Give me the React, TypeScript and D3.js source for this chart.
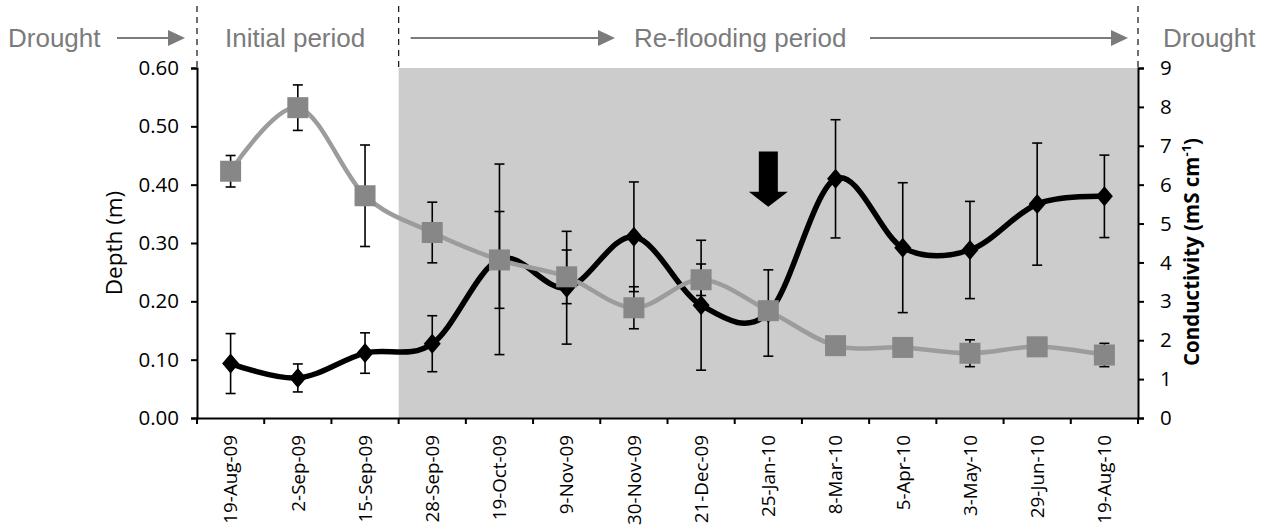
import * as d3 from 'd3';
import { useEffect, useRef } from 'react';

const WIDTH = 1270;
const HEIGHT = 527;

const dates = [
    '19-Aug-09', '2-Sep-09', '15-Sep-09', '28-Sep-09', '19-Oct-09', '9-Nov-09', '30-Nov-09',
    '21-Dec-09', '25-Jan-10', '8-Mar-10', '5-Apr-10', '3-May-10', '29-Jun-10', '19-Aug-10',
];
// water depth (m), left axis
const depth = [0.423, 0.532, 0.381, 0.318, 0.271, 0.242, 0.189, 0.237, 0.184, 0.124, 0.121, 0.111, 0.122, 0.108];
const depthErr = [0.027, 0.039, 0.087, 0.052, 0.083, 0.046, 0.036, 0.027, 0.01, 0.008, 0.008, 0.023, 0.01, 0.02];
// conductivity (mS/cm), right axis
const cond = [1.4, 1.03, 1.67, 1.91, 4.08, 3.35, 4.66, 2.9, 2.7, 6.15, 4.38, 4.32, 5.5, 5.7];
const condErr = [0.77, 0.36, 0.52, 0.72, 2.45, 1.45, 1.41, 1.67, 1.11, 1.52, 1.67, 1.25, 1.57, 1.06];

const depthTicks = [0, 0.1, 0.2, 0.3, 0.4, 0.5, 0.6];
const condTicks = [0, 1, 2, 3, 4, 5, 6, 7, 8, 9];

const refloodStart = '28-Sep-09';
const arrowDate = '25-Jan-10';

const TICK_FONT = '"Open Sans", Lato, sans-serif';
const NOTE_FONT = '"Liberation Sans", Arial, sans-serif';

export default function App() {
    const svgRef = useRef(null);

    useEffect(() => {
        const svg = d3.select(svgRef.current);
        svg.selectAll('*').remove();

        const left = 197;
        const right = 1138;
        const top = 68;
        const bottom = 418;

        const x = d3.scaleBand().domain(dates).range([left, right]);
        const cx = (d) => x(d) + x.bandwidth() / 2;
        const yD = d3.scaleLinear().domain([0, 0.6]).range([bottom, top]);
        const yC = d3.scaleLinear().domain([0, 9]).range([bottom, top]);

        // shaded re-flooding period
        svg.append('rect')
            .attr('x', x(refloodStart))
            .attr('y', top)
            .attr('width', right - x(refloodStart))
            .attr('height', bottom - top)
            .attr('fill', '#cccccc');

        // axes
        const gl = svg.append('g')
            .attr('transform', `translate(${left},0)`)
            .call(d3.axisLeft(yD).tickValues(depthTicks).tickFormat(d3.format('.2f')).tickSizeOuter(0).tickSize(6).tickPadding(12));
        const gr = svg.append('g')
            .attr('transform', `translate(${right},0)`)
            .call(d3.axisRight(yC).tickValues(condTicks).tickSizeOuter(0).tickSize(6).tickPadding(16));
        const gb = svg.append('g')
            .attr('transform', `translate(0,${bottom})`)
            .call(d3.axisBottom(x).tickSize(0).tickSizeOuter(0));

        // band-boundary ticks on x axis
        const bounds = dates.map((d) => x(d)).concat([right]);
        svg.append('g')
            .selectAll('line')
            .data(bounds)
            .join('line')
            .attr('x1', (d) => d)
            .attr('x2', (d) => d)
            .attr('y1', bottom)
            .attr('y2', bottom + 6)
            .attr('stroke', '#000')
            .attr('stroke-width', 2);

        [gl, gr, gb].forEach((g) => {
            g.selectAll('path.domain').attr('stroke', '#000').attr('stroke-width', 2);
            g.selectAll('.tick line').attr('stroke', '#000').attr('stroke-width', 2);
            g.selectAll('text').attr('fill', '#000').style('font-family', TICK_FONT);
        });
        gl.selectAll('text').style('font-size', '20.5px');
        gr.selectAll('text').style('font-size', '20.5px');
        gb.selectAll('text')
            .style('font-size', '18.8px')
            .attr('transform', 'rotate(-90)')
            .attr('x', -17)
            .attr('y', 0)
            .attr('dy', '0.36em')
            .style('text-anchor', 'end');

        // axis titles
        svg.append('text')
            .attr('transform', `translate(122,${(top + bottom) / 2}) rotate(-90)`)
            .attr('text-anchor', 'middle')
            .style('font-family', TICK_FONT)
            .style('font-size', '22.5px')
            .attr('fill', '#000')
            .text('Depth (m)');

        const ct = svg.append('text')
            .attr('transform', `translate(1199,252) rotate(-90)`)
            .attr('text-anchor', 'middle')
            .style('font-family', TICK_FONT)
            .style('font-size', '20.5px')
            .style('font-weight', 700)
            .attr('fill', '#000');
        ct.append('tspan').text('Conductivity (mS cm');
        ct.append('tspan').attr('dy', -8).style('font-size', '13px').text('-1');
        ct.append('tspan').attr('dy', 8).text(')');

        // conductivity series (black)
        const idx = d3.range(dates.length);
        const condLine = d3.line()
            .x((i) => cx(dates[i]))
            .y((i) => yC(cond[i]))
            .curve(d3.curveCardinal.tension(0));

        const gc = svg.append('g');
        gc.selectAll('g.err')
            .data(idx)
            .join('g')
            .each(function (i) {
                const g = d3.select(this);
                const xc = cx(dates[i]);
                const y1 = yC(cond[i] + condErr[i]);
                const y2 = yC(cond[i] - condErr[i]);
                g.append('line').attr('x1', xc).attr('x2', xc).attr('y1', y1).attr('y2', y2);
                g.append('line').attr('x1', xc - 5).attr('x2', xc + 5).attr('y1', y1).attr('y2', y1);
                g.append('line').attr('x1', xc - 5).attr('x2', xc + 5).attr('y1', y2).attr('y2', y2);
            })
            .attr('stroke', '#000')
            .attr('stroke-width', 1.6);
        gc.append('path')
            .datum(idx)
            .attr('fill', 'none')
            .attr('stroke', '#000')
            .attr('stroke-width', 5.5)
            .attr('d', condLine);
        gc.selectAll('path.mk')
            .data(idx)
            .join('path')
            .attr('class', 'mk')
            .attr('transform', (i) => `translate(${cx(dates[i])},${yC(cond[i])})`)
            .attr('d', 'M0,-10L8.5,0L0,10L-8.5,0Z')
            .attr('fill', '#000');

        // depth series (grey)
        const depthLine = d3.line()
            .x((i) => cx(dates[i]))
            .y((i) => yD(depth[i]))
            .curve(d3.curveCardinal.tension(0));

        const gd = svg.append('g');
        gd.append('path')
            .datum(idx)
            .attr('fill', 'none')
            .attr('stroke', '#9c9c9c')
            .attr('stroke-width', 4.5)
            .attr('d', depthLine);
        gd.selectAll('g.err')
            .data(idx)
            .join('g')
            .each(function (i) {
                const g = d3.select(this);
                const xc = cx(dates[i]);
                const y1 = yD(depth[i] + depthErr[i]);
                const y2 = yD(depth[i] - depthErr[i]);
                g.append('line').attr('x1', xc).attr('x2', xc).attr('y1', y1).attr('y2', y2);
                g.append('line').attr('x1', xc - 5).attr('x2', xc + 5).attr('y1', y1).attr('y2', y1);
                g.append('line').attr('x1', xc - 5).attr('x2', xc + 5).attr('y1', y2).attr('y2', y2);
            })
            .attr('stroke', '#000')
            .attr('stroke-width', 1.6);
        gd.selectAll('rect.mk')
            .data(idx)
            .join('rect')
            .attr('class', 'mk')
            .attr('x', (i) => cx(dates[i]) - 10.5)
            .attr('y', (i) => yD(depth[i]) - 10.5)
            .attr('width', 21)
            .attr('height', 21)
            .attr('fill', '#878787');

        // down arrow over 25-Jan-10
        const ax = cx(arrowDate);
        const ay0 = yC(6.85);
        const ay1 = yC(5.43);
        const ayh = yC(5.82);
        svg.append('path')
            .attr('d', `M${ax - 9.5},${ay0}H${ax + 9.5}V${ayh}H${ax + 19.5}L${ax},${ay1}L${ax - 19.5},${ayh}H${ax - 9.5}Z`)
            .attr('fill', '#000');

        // period annotations along the top
        const noteY = 38;
        const notes = svg.append('g').style('font-family', NOTE_FONT).style('font-size', '26px').attr('fill', '#7b7b7b');
        notes.append('text').attr('x', 8).attr('y', 47).text('Drought');
        notes.append('text').attr('x', 225).attr('y', 47).text('Initial period');
        notes.append('text').attr('x', 634).attr('y', 47).text('Re-flooding period');
        notes.append('text').attr('x', 1163).attr('y', 47).text('Drought');

        const arrows = [[117, left - 12], [x(refloodStart) + 12, 615], [870, right - 10]];
        arrows.forEach(([a, b]) => {
            notes.append('line')
                .attr('x1', a).attr('x2', b - 14)
                .attr('y1', noteY).attr('y2', noteY)
                .attr('stroke', '#7b7b7b').attr('stroke-width', 2);
            notes.append('path')
                .attr('d', `M${b - 17},${noteY - 8}L${b},${noteY}L${b - 17},${noteY + 8}Z`)
                .attr('fill', '#7b7b7b');
        });

        [left, x(refloodStart), right].forEach((xx) => {
            svg.append('line')
                .attr('x1', xx).attr('x2', xx)
                .attr('y1', 6).attr('y2', top)
                .attr('stroke', '#222')
                .attr('stroke-width', 1.3)
                .attr('stroke-dasharray', '6,5');
        });
    }, []);

    return (
        <svg
            ref={svgRef}
            width={WIDTH}
            height={HEIGHT}
            style={{ position: 'absolute', left: 0, top: 0, background: '#fff' }}
        />
    );
}
